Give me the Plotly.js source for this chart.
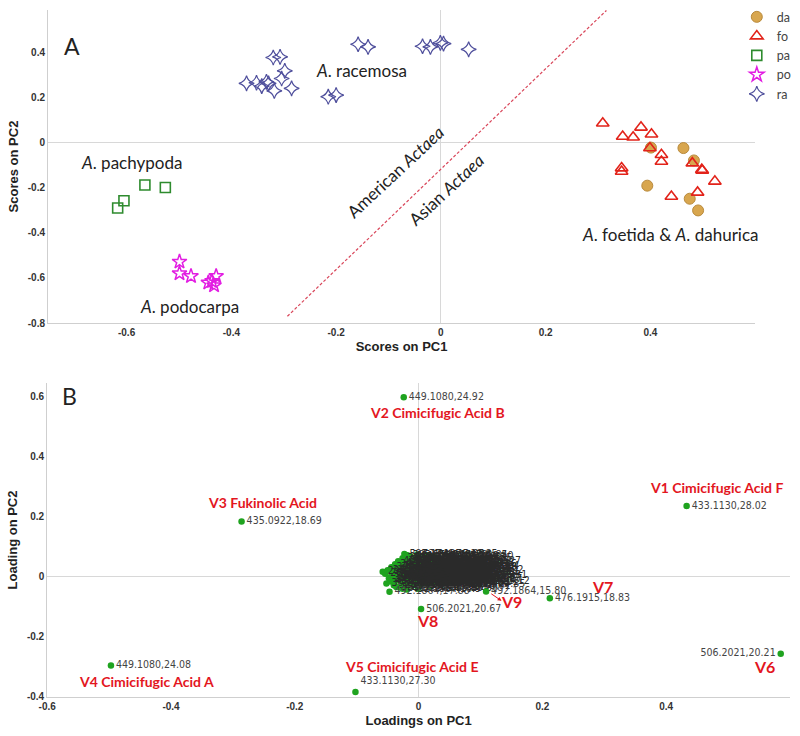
<!DOCTYPE html>
<html>
<head>
<meta charset="utf-8">
<script src="https://cdn.plot.ly/plotly-3.0.1.min.js"></script>
<style>html,body{margin:0;padding:0;background:#fff;overflow:hidden;}#chart{width:800px;height:736px;}</style>
</head>
<body>
<div id="chart"></div>
<script>
// ---------- Panel A: PCA scores ----------
const daX = [0.401, 0.463, 0.483, 0.394, 0.475, 0.491];
const daY = [-0.021, -0.023, -0.078, -0.190, -0.248, -0.300];
const foX = [0.309, 0.347, 0.367, 0.382, 0.402, 0.399, 0.421, 0.421, 0.345, 0.345, 0.480, 0.498, 0.499, 0.523, 0.440, 0.490];
const foY = [0.087, 0.028, 0.025, 0.069, 0.038, -0.023, -0.053, -0.083, -0.112, -0.127, -0.090, -0.119, -0.123, -0.171, -0.238, -0.220];
const paX = [-0.617, -0.605, -0.565, -0.526];
const paY = [-0.289, -0.257, -0.187, -0.198];
const poX = [-0.499, -0.499, -0.477, -0.444, -0.437, -0.429, -0.433];
const poY = [-0.528, -0.580, -0.592, -0.621, -0.614, -0.592, -0.633];
const raX = [-0.371, -0.352, -0.342, -0.333, -0.329, -0.320, -0.307, -0.318, -0.304, -0.298, -0.285, -0.215, -0.200, -0.158, -0.139, -0.035, -0.020, -0.001, 0.005, 0.053];
const raY = [0.264, 0.267, 0.252, 0.271, 0.264, 0.379, 0.382, 0.231, 0.286, 0.320, 0.242, 0.205, 0.212, 0.438, 0.426, 0.429, 0.426, 0.444, 0.441, 0.415];
const groupNames = ['da', 'fo', 'pa', 'po', 'ra'];
const dividerX = [-0.293, 0.316];
const dividerY = [-0.770, 0.588];

// ---------- Panel B: PCA loadings ----------
const loadX = [-0.024, 0.433, -0.286, -0.497, -0.102, 0.585, 0.212, 0.109, 0.004, -0.047];
const loadY = [0.598, 0.236, 0.184, -0.295, -0.383, -0.256, -0.071, -0.049, -0.107, -0.050];
const loadLabels = ['449.1080,24.92', '433.1130,28.02', '435.0922,18.69', '449.1080,24.08', '433.1130,27.30',
                    '506.2021,20.21', '476.1915,18.83', '492.1864,15.80', '506.2021,20.67', '492.1864,17.88'];
const clusterX = [-0.058, -0.054, -0.050, -0.048, -0.046, -0.044, -0.042, -0.040, -0.038, -0.036, -0.035, -0.033,
                  -0.031, -0.030, -0.028, -0.026, -0.025, -0.023, -0.022, -0.020, -0.019, -0.017, -0.016, -0.014,
                  -0.013, -0.011, -0.010, -0.008, -0.007, -0.005, -0.004, -0.002, -0.001, 0.001, 0.002, 0.004,
                  0.005, 0.007, 0.008, 0.010, 0.011, 0.013, 0.014, 0.016, 0.017, 0.019, 0.020, 0.022, 0.023,
                  0.025, 0.026, 0.028, 0.030, 0.032, 0.034, 0.036, 0.038, 0.040, 0.043, 0.046, 0.050,
                  -0.052, -0.036, -0.026, -0.018, -0.014,
                  -0.045, -0.043, -0.041, -0.039, -0.037, -0.034, -0.032, -0.030, -0.029, -0.027, -0.025, -0.024,
                  -0.022, -0.021, -0.019, -0.018, -0.016, -0.015, -0.013, -0.012, -0.010, -0.009, -0.007, -0.006,
                  -0.004, -0.003, -0.001, 0.000, 0.002, 0.003, 0.005, 0.006, 0.008, 0.009, 0.011, 0.012,
                  0.014, 0.015, 0.017, 0.018, 0.020, 0.021, 0.023, 0.024, 0.026, 0.027, 0.029, 0.031, 0.033, 0.035];
const clusterY = [0.017, 0.010, 0.022, -0.005, -0.016, 0.032, 0.006, -0.028, 0.042, 0.015, -0.012, 0.052,
                  -0.036, 0.026, 0.000, 0.062, -0.022, 0.076, 0.036, 0.010, -0.042, 0.048, -0.008, 0.022,
                  0.068, -0.030, 0.040, 0.004, 0.058, -0.018, 0.028, 0.074, -0.040, 0.012, 0.046, -0.006,
                  0.064, 0.030, -0.026, 0.018, 0.054, -0.012, 0.072, 0.038, 0.002, -0.032, 0.024, 0.060, -0.016,
                  0.044, 0.010, -0.004, 0.030, -0.020, 0.016, 0.050, -0.010, 0.022, -0.026, 0.006, -0.014,
                  -0.022, -0.034, -0.040, 0.072, 0.056,
                  0.000, 0.012, -0.008, 0.026, 0.004, 0.036, -0.004, 0.014, 0.046, -0.014, 0.030, 0.006,
                  0.054, -0.024, 0.018, 0.040, 0.000, 0.066, 0.032, -0.014, 0.050, 0.014, -0.008, 0.038,
                  0.062, 0.006, 0.024, -0.022, 0.056, 0.034, 0.008, -0.014, 0.044, 0.022, 0.066, -0.004,
                  0.030, 0.010, 0.050, -0.022, 0.036, 0.004, 0.016, 0.068, 0.026, -0.010, 0.042, 0.004, 0.034, -0.004];
const clusterLabels = ['291.0863,12.44', '289.0712,9.85', '387.1291,14.06', '355.1029,11.72', '433.1134,16.30',
  '371.0978,13.59', '453.1755,21.03', '525.2129,19.44', '343.0661,8.92', '417.1184,15.51', '461.1446,22.17',
  '401.1235,17.68', '477.2066,19.91', '329.0874,10.38', '445.1393,18.25', '365.0877,13.12', '509.1659,23.48',
  '597.1741,12.85', '415.1392,20.64', '383.0978,16.02', '492.1864,16.94', '431.0978,14.77', '463.1240,21.39',
  '353.0873,9.66', '611.1607,13.20', '517.2235,22.71', '449.1084,18.81', '339.0721,11.28', '579.1714,15.43',
  '505.1780,24.05', '395.1342,12.93', '623.1976,19.85', '521.1809,17.36', '377.0867,15.69', '469.1352,20.18',
  '429.1028,23.02', '567.1921,14.61', '411.1291,16.87', '535.2072,21.90', '447.0927,13.74', '593.1508,18.12',
  '485.1922,22.45', '631.2031,12.85', '457.1549,19.57', '419.1341,25.02', '539.2185,18.01', '441.1190,20.93',
  '557.1604,14.35', '503.1974,26.17', '475.1807,16.48', '433.1123,21.76', '489.1770,24.02', '463.1603,23.39',
  '519.2028,18.01', '427.1184,25.61', '571.1815,19.27', '495.1912,22.17', '447.1239,27.02', '533.1876,24.85',
  '479.1603,26.31', '511.2072,25.12', '305.0667,10.57', '359.0979,12.21', '391.1241,13.98', '585.1546,11.70',
  '437.1084,15.08',
  '337.0923,11.06', '369.1182,12.67', '409.1496,14.22', '451.1028,15.94', '325.0710,9.47', '465.1447,17.53',
  '381.1084,13.31', '423.1290,18.46', '493.1655,16.79', '359.0764,10.92', '447.0931,19.68', '399.1187,14.85',
  '547.1818,20.37', '503.1611,21.58', '435.1134,17.12', '475.1818,22.84', '387.0974,15.27', '613.1861,16.09',
  '457.1189,19.02', '517.2024,23.71', '481.1659,20.45', '421.1131,16.33', '553.1929,24.66', '443.1342,18.58',
  '587.1610,21.14', '397.1077,17.90', '459.1500,22.31', '529.2120,25.37', '499.1459,19.76', '413.1028,20.83',
  '541.1763,23.28', '467.1909,24.49', '425.0978,18.97', '571.2076,21.65', '449.1136,26.48', '603.1925,17.44',
  '477.1599,22.96', '439.1243,25.84', '523.1814,20.02', '505.2021,24.33', '461.1394,27.51', '487.1807,23.15',
  '545.2089,26.72', '455.1440,19.40', '515.1951,27.88', '471.1867,21.29', '431.1545,28.36', '537.2040,22.58',
  '493.1972,26.04', '483.2017,25.77'];

const txtFont = 'Lato, Carlito, "Open Sans", sans-serif';
const numFont = '"Liberation Sans Narrow", "DejaVu Sans Condensed", Roboto, sans-serif';
const axFont = '"Liberation Sans", Arial, sans-serif';
const red = '#E3161E';

const traces = [
  {x: daX, y: daY, name: groupNames[0], type: 'scatter', mode: 'markers', xaxis: 'x', yaxis: 'y',
   marker: {symbol: 'circle', size: 11, color: '#D8A64E', line: {color: '#B98A3C', width: 1}}},
  {x: foX, y: foY, name: groupNames[1], type: 'scatter', mode: 'markers', xaxis: 'x', yaxis: 'y',
   marker: {symbol: 'triangle-up-open', size: 11, color: '#E2231A', line: {width: 1.6}}},
  {x: paX, y: paY, name: groupNames[2], type: 'scatter', mode: 'markers', xaxis: 'x', yaxis: 'y',
   marker: {symbol: 'square-open', size: 10, color: '#2E8B2E', line: {width: 1.6}}},
  {x: poX, y: poY, name: groupNames[3], type: 'scatter', mode: 'markers', xaxis: 'x', yaxis: 'y',
   marker: {symbol: 'star-open', size: 11, color: '#E21DE2', line: {width: 1.5}}},
  {x: raX, y: raY, name: groupNames[4], type: 'scatter', mode: 'markers', xaxis: 'x', yaxis: 'y',
   marker: {symbol: 'star-diamond-open', size: 11, color: '#4F4F9C', line: {width: 1.2}}},
  {x: dividerX, y: dividerY, type: 'scatter', mode: 'lines', showlegend: false, hoverinfo: 'skip',
   xaxis: 'x', yaxis: 'y', line: {color: '#D9465A', width: 1.2, dash: '3px,2px'}},
  {x: clusterX, y: clusterY, text: clusterLabels, type: 'scatter', mode: 'markers+text', showlegend: false,
   xaxis: 'x2', yaxis: 'y2', textposition: 'middle right', cliponaxis: false,
   textfont: {family: numFont, size: 10.5, color: '#2a2a2a'},
   marker: {symbol: 'circle', size: 6.5, color: '#1FA31F'}},
  {x: loadX, y: loadY, text: loadLabels, type: 'scatter', mode: 'markers+text', showlegend: false,
   xaxis: 'x2', yaxis: 'y2', cliponaxis: false,
   textposition: ['middle right', 'middle right', 'middle right', 'middle right', 'top right',
                  'middle left', 'middle right', 'middle right', 'middle right', 'middle right'],
   textfont: {family: numFont, size: 10.5, color: '#444'},
   marker: {symbol: 'circle', size: 6.5, color: '#1FA31F'}}
];

const tickF = {family: axFont, size: 10, color: '#333', weight: 'bold'};
const titleF = {family: axFont, size: 13, color: '#222', weight: 'bold'};
const axBase = {showgrid: false, zeroline: true, zerolinecolor: '#d8d8d8', zerolinewidth: 1,
                showline: true, linecolor: '#cfcfcf', linewidth: 1, ticks: '', tickfont: tickF, automargin: false};

function ann(x, y, text, size, color, extra) {
  return Object.assign({x: x, y: y, text: text, showarrow: false,
    font: {family: txtFont, size: size, color: color}}, extra || {});
}
const redB = (x, y, t, s) => ann(x, y, t, s, red, {xref: 'x2', yref: 'y2', font: {family: txtFont, size: s, color: red, weight: 'bold'}});

const layout = {
  width: 800, height: 736, autosize: false,
  margin: {l: 0, r: 0, t: 0, b: 0, autoexpand: false},
  paper_bgcolor: '#fff', plot_bgcolor: '#fff',
  showlegend: true,
  legend: {x: 0.921, y: 0.997, xanchor: 'left', yanchor: 'top', bgcolor: 'rgba(0,0,0,0)',
           font: {family: txtFont, size: 12.5, color: '#444'}, itemwidth: 30, tracegroupgap: 0},
  xaxis: Object.assign({}, axBase, {domain: [0.06, 0.944], range: [-0.75, 0.6], anchor: 'y',
          tickvals: [-0.6, -0.4, -0.2, 0, 0.2, 0.4], ticktext: ['-0.6', '-0.4', '-0.2', '0', '0.2', '0.4'],
          title: {text: 'Scores on PC1', font: titleF, standoff: 4}}),
  yaxis: Object.assign({}, axBase, {domain: [0.5611, 0.9864], range: [-0.8, 0.59], anchor: 'x',
          tickvals: [-0.8, -0.6, -0.4, -0.2, 0, 0.2, 0.4], ticktext: ['-0.8', '-0.6', '-0.4', '-0.2', '0', '0.2', '0.4'],
          title: {text: 'Scores on PC2', font: titleF, standoff: 6}}),
  xaxis2: Object.assign({}, axBase, {domain: [0.059, 0.9875], range: [-0.6, 0.6], anchor: 'y2',
          tickvals: [-0.6, -0.4, -0.2, 0, 0.2, 0.4], ticktext: ['-0.6', '-0.4', '-0.2', '0', '0.2', '0.4'],
          title: {text: 'Loadings on PC1', font: titleF, standoff: 4}}),
  yaxis2: Object.assign({}, axBase, {domain: [0.053, 0.4796], range: [-0.4, 0.645], anchor: 'x2',
          tickvals: [-0.4, -0.2, 0, 0.2, 0.4, 0.6], ticktext: ['-0.4', '-0.2', '0', '0.2', '0.4', '0.6'],
          title: {text: 'Loading on PC2', font: titleF, standoff: 6}}),
  annotations: [
    ann(62 / 800, 1 - 30 / 736, 'A', 23, '#222', {xref: 'paper', yref: 'paper'}),
    ann(60 / 800, 1 - 396 / 736, 'B', 23, '#222', {xref: 'paper', yref: 'paper'}),
    ann(-0.152, 0.323, '<i>A</i>. racemosa', 17, '#222', {xref: 'x', yref: 'y'}),
    ann(-0.591, -0.088, '<i>A</i>. pachypoda', 17, '#222', {xref: 'x', yref: 'y'}),
    ann(-0.479, -0.726, '<i>A</i>. podocarpa', 17, '#222', {xref: 'x', yref: 'y'}),
    ann(0.437, -0.407, '<i>A</i>. foetida &amp; <i>A</i>. dahurica', 17, '#222', {xref: 'x', yref: 'y'}),
    ann(-0.086, -0.128, 'American <i>Actaea</i>', 17, '#222', {xref: 'x', yref: 'y', textangle: -43}),
    ann(0.011, -0.208, 'Asian <i>Actaea</i>', 17, '#222', {xref: 'x', yref: 'y', textangle: -43}),
    redB(0.030, 0.548, 'V2 Cimicifugic Acid B', 14),
    redB(0.481, 0.296, 'V1 Cimicifugic Acid F', 14),
    redB(-0.252, 0.246, 'V3 Fukinolic Acid', 14),
    redB(-0.440, -0.349, 'V4 Cimicifugic Acid A', 14),
    redB(-0.011, -0.299, 'V5 Cimicifugic Acid E', 14),
    redB(0.558, -0.299, 'V6', 16),
    redB(0.297, -0.033, 'V7', 16),
    redB(0.015, -0.146, 'V8', 16),
    redB(0.150, -0.083, 'V9', 16),
    {x: 0.134, y: -0.080, xref: 'x2', yref: 'y2', ax: 0.115, ay: -0.053, axref: 'x2', ayref: 'y2',
     text: '', showarrow: true, arrowhead: 2, arrowsize: 0.8, arrowwidth: 1, arrowcolor: red}
  ]
};

Plotly.newPlot('chart', traces, layout, {staticPlot: true, displayModeBar: false});
</script>
</body>
</html>
